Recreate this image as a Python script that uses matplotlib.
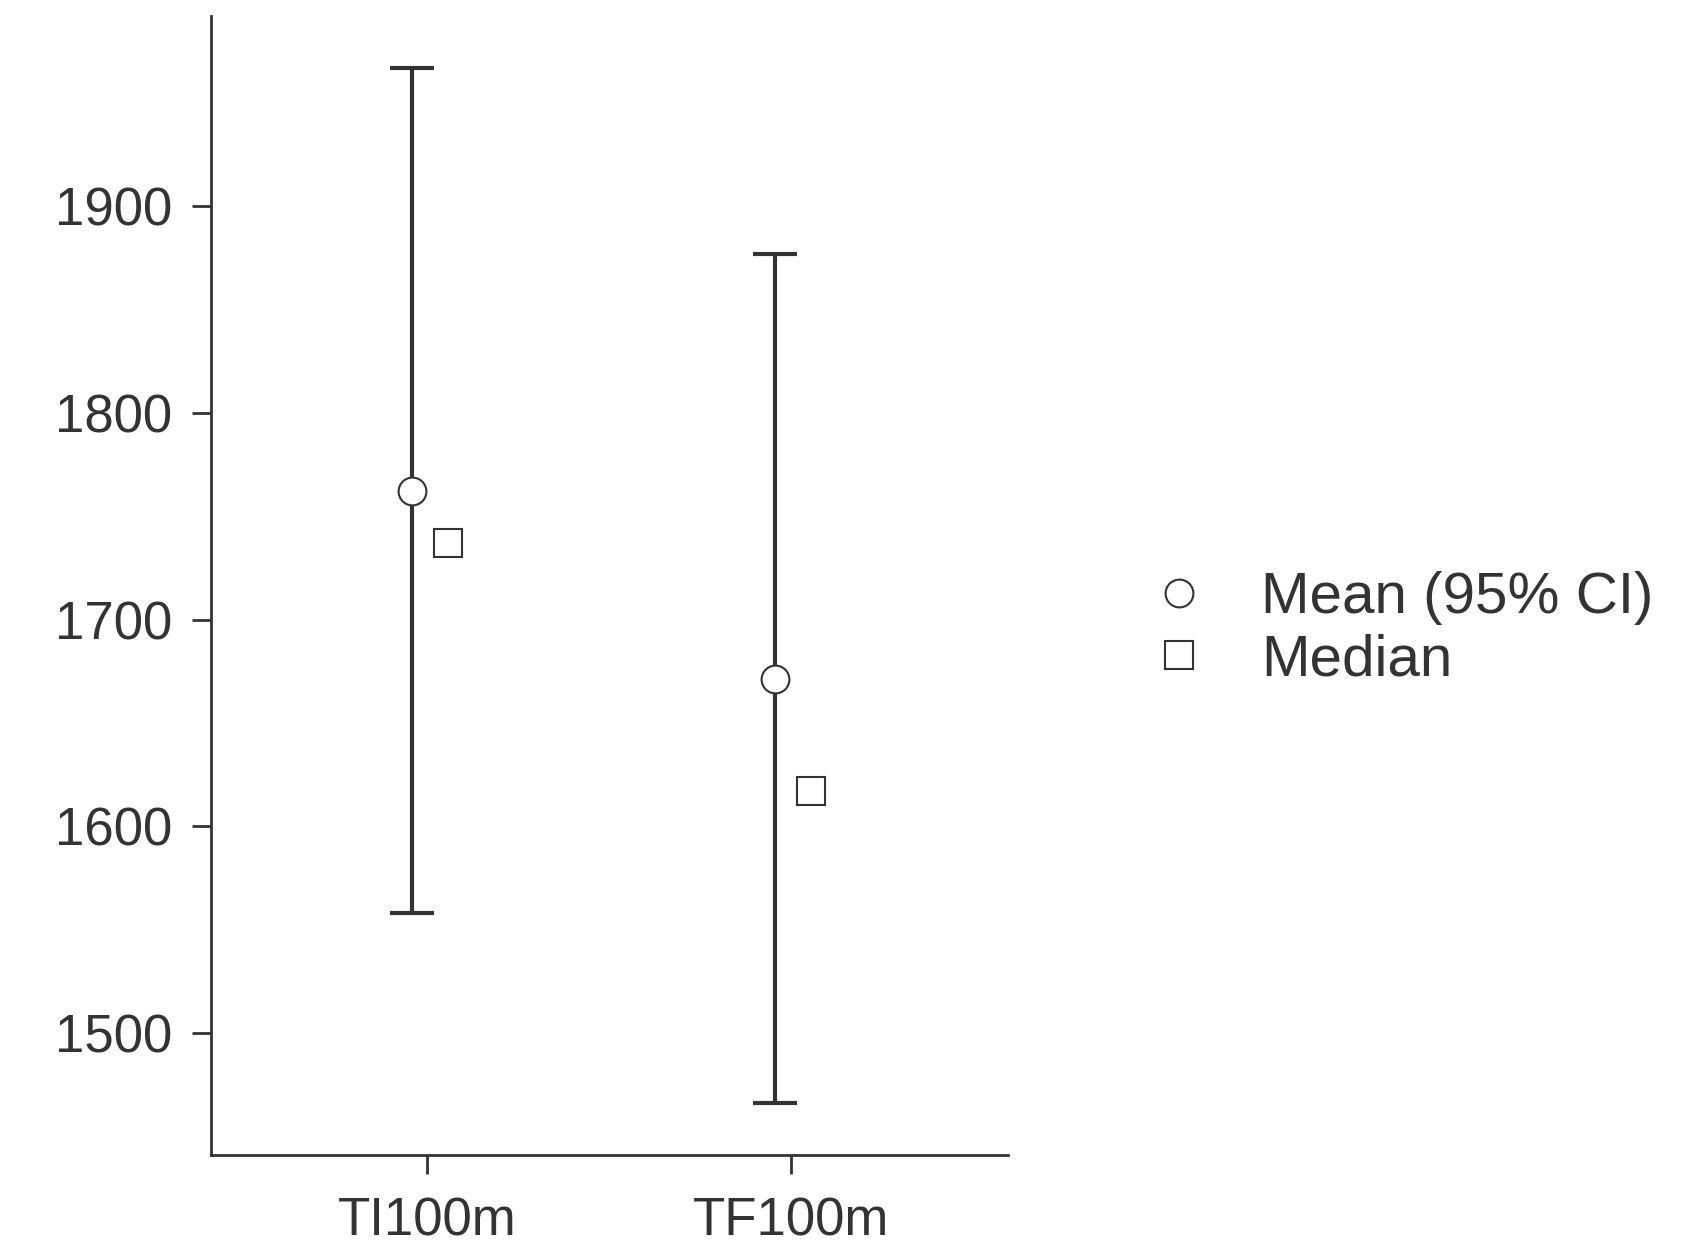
import matplotlib
matplotlib.use("Agg")
import matplotlib.pyplot as plt
from matplotlib.lines import Line2D

categories = ["TI100m", "TF100m"]
means = [1762, 1671]
ci_low = [1558, 1466]
ci_high = [1967, 1877]
medians = [1737, 1617]

plt.rcParams['font.family'] = ['Liberation Sans', 'DejaVu Sans']
fig = plt.figure(figsize=(17.02, 12.59), dpi=100)
ax = fig.add_axes([0.124, 0.083, 0.468, 0.904])
col = '#333333'
xs = [1, 2]
for i, x in enumerate(xs):
    xm = x - 0.042
    ax.errorbar([xm], [means[i]], yerr=[[means[i]-ci_low[i]], [ci_high[i]-means[i]]],
                fmt='none', ecolor=col, elinewidth=3, capsize=16, capthick=3, zorder=1)
    ax.plot([xm], [means[i]], 'o', ms=20, mfc='white', mec=col, mew=1.5, zorder=3)
    ax.plot([x + 0.057], [medians[i]], 's', ms=20, mfc='white', mec=col, mew=1.5, zorder=3)
ax.set_xlim(0.407, 2.596)
ax.set_ylim(1441, 1992)
ax.set_xticks(xs)
ax.set_xticklabels(categories)
ax.set_yticks([1500, 1600, 1700, 1800, 1900])
for s in ['top', 'right']:
    ax.spines[s].set_visible(False)
for s in ['left', 'bottom']:
    ax.spines[s].set_color(col)
    ax.spines[s].set_linewidth(2)
ax.tick_params(colors=col, labelcolor=col, labelsize=38, width=2, length=14)
ax.tick_params(axis='y', pad=14)
ax.tick_params(axis='x', pad=16)
handles = [Line2D([], [], ls='none', marker='o', ms=20, mfc='white', mec=col, mew=1.5),
           Line2D([], [], ls='none', marker='s', ms=20, mfc='white', mec=col, mew=1.5)]
fig.legend(handles, ["Mean (95% CI)", "Median"], loc='center left',
           bbox_to_anchor=(0.645, 0.5), frameon=False, fontsize=42,
           labelcolor=col, handletextpad=0.4, labelspacing=0.15, borderaxespad=0)
fig.savefig("out.png", dpi=100)
